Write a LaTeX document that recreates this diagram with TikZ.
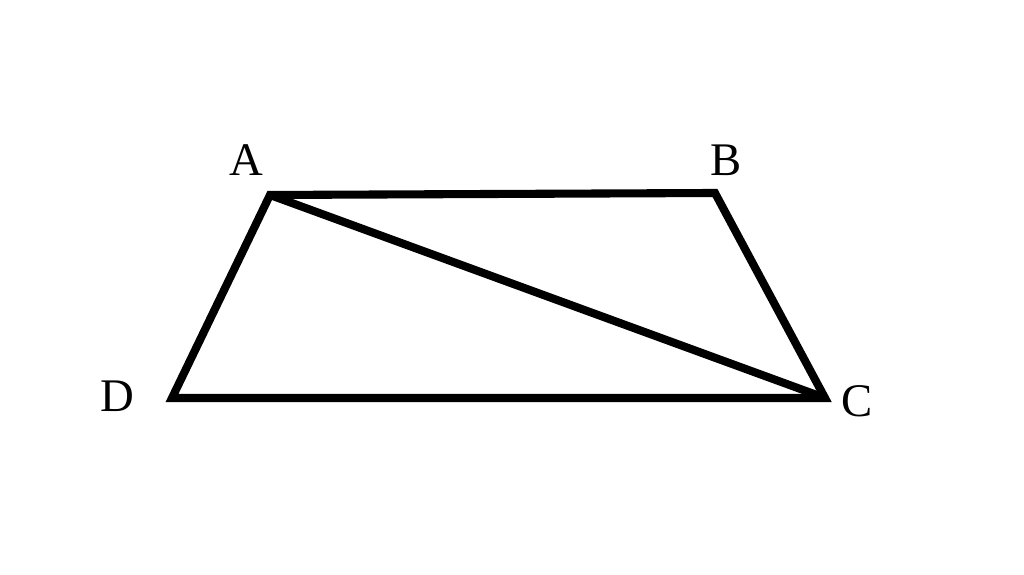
\documentclass[tikz,border=0pt]{standalone}
\usepackage{fontspec}
\setmainfont{Liberation Serif}
\usepackage{tikz}
\usetikzlibrary{calc}
\tikzset{edge/.style={line width=2.3pt, line join=miter}}
\begin{document}
\begin{tikzpicture}
    \useasboundingbox (0,0) rectangle (10.24,5.75);
    % Coordinates
    \coordinate (A) at (2.70,3.80);
    \coordinate (B) at (7.15,3.82);
    \coordinate (C) at (8.25,1.77);
    \coordinate (D) at (1.72,1.77);

    % Trapezium
    \draw[edge] (A) -- (B) -- (C) -- (D) -- cycle;
    % Diagonal
    \draw[edge] (A) -- (C);

    % Text
    \node[font=\fontsize{13.3}{16}\selectfont] (a) at (2.46,4.15) {A};
    \node[font=\fontsize{13.3}{16}\selectfont] (b) at (7.26,4.15) {B};
    \node[font=\fontsize{13.3}{16}\selectfont] (c) at (8.57,1.74) {C};
    \node[font=\fontsize{13.3}{16}\selectfont] (d) at (1.17,1.79) {D};
\end{tikzpicture}
\end{document}
